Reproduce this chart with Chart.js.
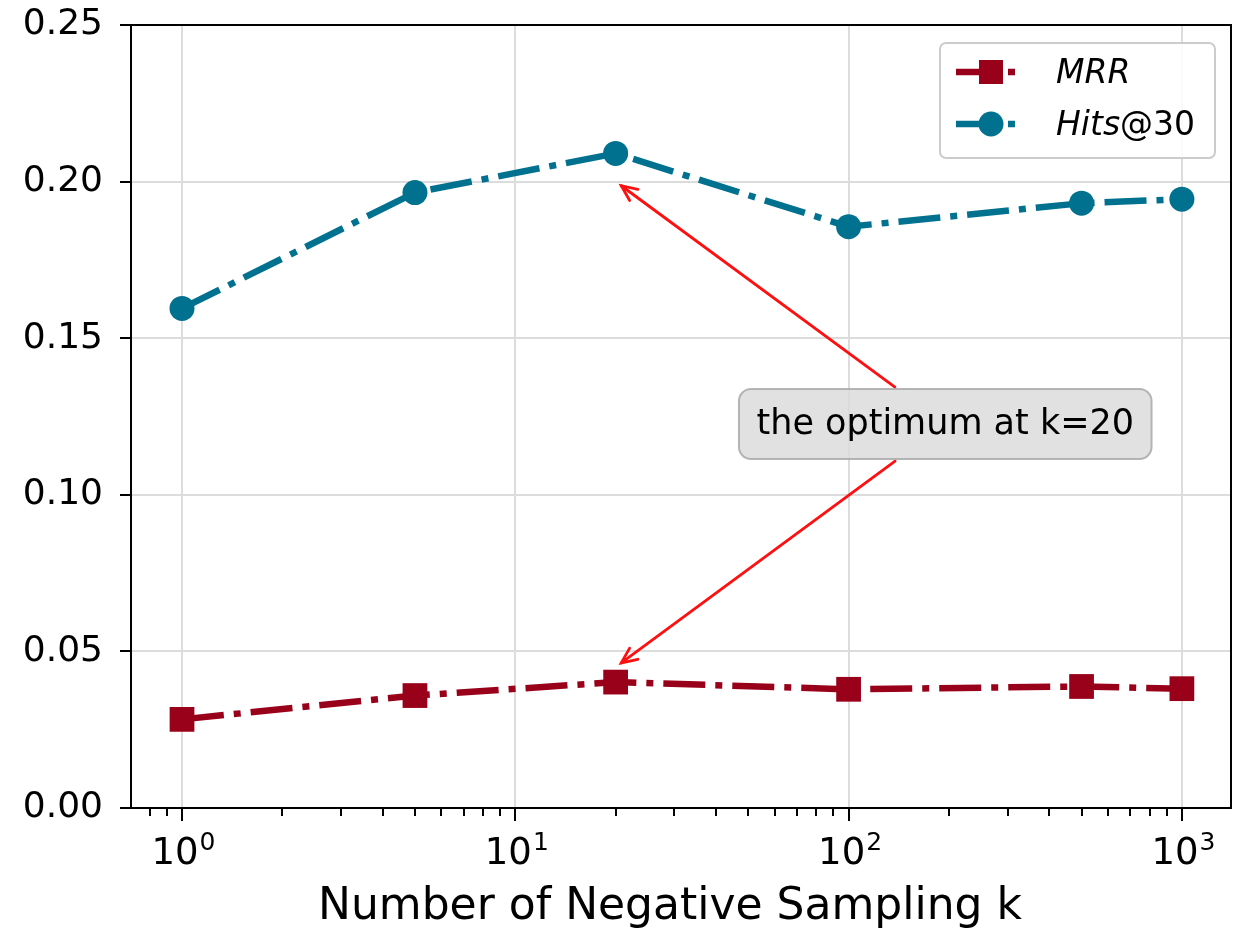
<!DOCTYPE html>
<html>
<head>
<meta charset="utf-8">
<script src="https://cdn.jsdelivr.net/npm/chart.js@4"></script>
<style>
	body { margin: 0; background: #ffffff; }
	#wrap { width: 1238px; height: 930px; }
</style>
</head>
<body>
<div id="wrap"><canvas id="chart-neg" width="1238" height="930"></canvas></div>
<script>
var sampleSizes = [1, 5, 20, 100, 500, 1000];
var mrrValues = [0.0283, 0.0359, 0.0402, 0.0379, 0.0388, 0.0381];
var hitsValues = [0.1595, 0.1965, 0.2090, 0.1856, 0.1931, 0.1944];
var majorTicks = [1, 10, 100, 1000];
var majorExponents = ["0", "1", "2", "3"];
var yTicks = [0, 0.05, 0.10, 0.15, 0.20, 0.25];
var xTitle = "Number of Negative Sampling k";

var RED = "#990019";
var TEAL = "#00718f";
var FONT = "'DejaVu Sans', sans-serif";
var DASH = [42, 10, 7, 10];

// annotation in data coordinates: text centre and the two arrow tips
var noteText = "the optimum at k=20";
var noteAt = [195, 0.1226];
var noteTips = [[20, 0.200], [20, 0.045]];

function isMajor(v) {
	return majorTicks.indexOf(v) != -1;
}

function drawArrow(ctx, x0, y0, x1, y1) {
	var ang = Math.atan2(y1 - y0, x1 - x0);
	ctx.beginPath();
	ctx.moveTo(x0, y0);
	ctx.lineTo(x1, y1);
	ctx.stroke();
	var hl = 17, spread = 0.42;
	ctx.beginPath();
	ctx.moveTo(x1 - hl * Math.cos(ang - spread), y1 - hl * Math.sin(ang - spread));
	ctx.lineTo(x1, y1);
	ctx.lineTo(x1 - hl * Math.cos(ang + spread), y1 - hl * Math.sin(ang + spread));
	ctx.stroke();
}

var framePlugin = {
	id: "frame",
	afterDatasetsDraw: function(chart) {
		var ctx = chart.ctx;
		var xs = chart.scales.x, ys = chart.scales.y;

		// annotation box and arrows
		ctx.save();
		ctx.font = "35px " + FONT;
		var tw = ctx.measureText(noteText).width;
		var cx = xs.getPixelForValue(noteAt[0]);
		var cy = ys.getPixelForValue(noteAt[1]);
		var bw = tw + 35, bh = 70;
		var bx = cx - bw / 2, by = cy - bh / 2;

		ctx.strokeStyle = "#ff1010";
		ctx.lineWidth = 2.8;
		ctx.lineCap = "round";
		for (var i = 0; i < noteTips.length; ++i) {
			var tx = xs.getPixelForValue(noteTips[i][0]);
			var ty = ys.getPixelForValue(noteTips[i][1]);
			var dx = tx - cx, dy = ty - cy;
			var len = Math.sqrt(dx * dx + dy * dy);
			var t = Math.min((bw / 2) / Math.abs(dx), (bh / 2 + 2) / Math.abs(dy));
			var sx = cx + dx * t, sy = cy + dy * t;
			var ex = tx - dx / len * 7, ey = ty - dy / len * 7;
			drawArrow(ctx, sx, sy, ex, ey);
		}

		ctx.beginPath();
		ctx.roundRect(bx, by, bw, bh, 12);
		ctx.fillStyle = "rgba(218, 218, 218, 0.82)";
		ctx.fill();
		ctx.strokeStyle = "rgba(165, 165, 165, 0.8)";
		ctx.lineWidth = 2;
		ctx.stroke();
		ctx.fillStyle = "#000000";
		ctx.textAlign = "center";
		ctx.textBaseline = "middle";
		ctx.fillText(noteText, cx, cy + 1);
		ctx.restore();
	},
	afterDraw: function(chart) {
		var ctx = chart.ctx;
		var xs = chart.scales.x;
		var area = chart.chartArea;

		ctx.save();
		// x tick marks, long for decades and short for the rest
		ctx.strokeStyle = "#000000";
		ctx.lineWidth = 2;
		for (var i = 0; i < xs.ticks.length; ++i) {
			var v = xs.ticks[i].value;
			var px = Math.round(xs.getPixelForValue(v));
			var tl = isMajor(v) ? 13 : 8;
			ctx.beginPath();
			ctx.moveTo(px, area.bottom);
			ctx.lineTo(px, area.bottom + tl);
			ctx.stroke();
		}

		// decade labels as 10 with a raised exponent
		ctx.fillStyle = "#000000";
		ctx.textBaseline = "alphabetic";
		ctx.textAlign = "left";
		for (var d = 0; d < majorTicks.length; ++d) {
			var mx = xs.getPixelForValue(majorTicks[d]);
			ctx.font = "37px " + FONT;
			var bwid = ctx.measureText("10").width;
			ctx.font = "25px " + FONT;
			var ewid = ctx.measureText(majorExponents[d]).width;
			var x0 = mx - (bwid + ewid) / 2 + 1;
			ctx.font = "37px " + FONT;
			ctx.fillText("10", x0, area.bottom + 56);
			ctx.font = "25px " + FONT;
			ctx.fillText(majorExponents[d], x0 + bwid + 1, area.bottom + 42);
		}

		// x axis label
		ctx.font = "44px " + FONT;
		ctx.textAlign = "center";
		ctx.fillText(xTitle, (area.left + area.right) / 2 - 11, area.bottom + 111);

		// axes box
		ctx.strokeStyle = "#000000";
		ctx.lineWidth = 2;
		ctx.strokeRect(area.left, area.top, area.right - area.left, area.bottom - area.top);

		// legend
		var lw = 275, lh = 115;
		var lx = area.right - 16 - lw, ly = area.top + 18;
		ctx.beginPath();
		ctx.roundRect(lx, ly, lw, lh, 6);
		ctx.fillStyle = "rgba(255, 255, 255, 0.85)";
		ctx.fill();
		ctx.strokeStyle = "#cccccc";
		ctx.lineWidth = 2;
		ctx.stroke();

		var rows = [
			{ color: RED, style: "rect", y: ly + 29, italic: "MRR", plain: "" },
			{ color: TEAL, style: "circle", y: ly + 81, italic: "Hits", plain: "@30" }
		];
		for (var r = 0; r < rows.length; ++r) {
			var row = rows[r];
			ctx.strokeStyle = row.color;
			ctx.fillStyle = row.color;
			ctx.lineWidth = 6.5;
			ctx.setLineDash(DASH);
			ctx.beginPath();
			ctx.moveTo(lx + 16, row.y);
			ctx.lineTo(lx + 78, row.y);
			ctx.stroke();
			ctx.setLineDash([]);
			if (row.style == "rect") {
				ctx.fillRect(lx + 51 - 12, row.y - 12, 24, 24);
			} else {
				ctx.beginPath();
				ctx.arc(lx + 51, row.y, 12.5, 0, Math.PI * 2);
				ctx.fill();
			}
			ctx.fillStyle = "#000000";
			ctx.textAlign = "left";
			ctx.textBaseline = "middle";
			ctx.font = "italic 33px " + FONT;
			ctx.fillText(row.italic, lx + 116, row.y + 2);
			var iw = ctx.measureText(row.italic).width;
			ctx.font = "33px " + FONT;
			ctx.fillText(row.plain, lx + 116 + iw, row.y + 2);
		}
		ctx.restore();
	}
};

var ctx = document.getElementById("chart-neg").getContext("2d");
var chart = new Chart(ctx, {
	type: "line",
	data: {
		datasets: [
			{
				label: "MRR",
				data: sampleSizes.map(function(k, i) { return { x: k, y: mrrValues[i] }; }),
				borderColor: RED,
				backgroundColor: RED,
				borderWidth: 6.5,
				borderDash: DASH,
				pointStyle: "rect",
				pointRadius: 17.5,
				pointBorderWidth: 0,
				pointBackgroundColor: RED
			},
			{
				label: "Hits@30",
				data: sampleSizes.map(function(k, i) { return { x: k, y: hitsValues[i] }; }),
				borderColor: TEAL,
				backgroundColor: TEAL,
				borderWidth: 6.5,
				borderDash: DASH,
				pointStyle: "circle",
				pointRadius: 12.5,
				pointBorderWidth: 0,
				pointBackgroundColor: TEAL
			}
		]
	},
	options: {
		responsive: false,
		animation: false,
		layout: { autoPadding: false, padding: { top: 25, right: 7, left: 0, bottom: 0 } },
		plugins: {
			legend: { display: false },
			tooltip: { enabled: false }
		},
		scales: {
			x: {
				type: "logarithmic",
				min: 0.703,
				max: 1404,
				bounds: "data",
				afterBuildTicks: function(scale) {
					var ticks = [];
					// minor ticks below the first decade
					for (var m0 = 2; m0 < 10; ++m0) {
						var w = majorTicks[0] * m0 / 10;
						if (w >= scale.min) {
							ticks.push({ value: w, major: false });
						}
					}
					for (var d = 0; d < majorTicks.length; ++d) {
						ticks.push({ value: majorTicks[d], major: true });
						for (var m = 2; m < 10; ++m) {
							var v = majorTicks[d] * m;
							if (v <= scale.max) {
								ticks.push({ value: v, major: false });
							}
						}
					}
					ticks.sort(function(a, b) { return a.value - b.value; });
					scale.ticks = ticks;
				},
				afterFit: function(scale) { scale.height = 122; },
				border: { display: false },
				grid: {
					color: function(c) {
						return c.tick && isMajor(c.tick.value) ? "#dcdcdc" : "rgba(0,0,0,0)";
					},
					lineWidth: 2,
					drawTicks: false
				},
				ticks: {
					display: false,
					autoSkip: false
				}
			},
			y: {
				type: "linear",
				min: 0,
				max: 0.25,
				afterBuildTicks: function(scale) {
					scale.ticks = yTicks.map(function(v) { return { value: v }; });
				},
				afterFit: function(scale) {
					scale.width = 131;
					// labels may overhang the plot box, like matplotlib
					scale.paddingTop = 0;
					scale.paddingBottom = 0;
				},
				border: { display: false },
				grid: {
					color: "#dcdcdc",
					lineWidth: 2,
					tickColor: "#000000",
					tickWidth: 2,
					tickLength: 11
				},
				ticks: {
					padding: 17,
					color: "#000000",
					font: { family: FONT, size: 36 },
					callback: function(value) { return value.toFixed(2); }
				}
			}
		}
	},
	plugins: [framePlugin]
});
</script>
</body>
</html>
